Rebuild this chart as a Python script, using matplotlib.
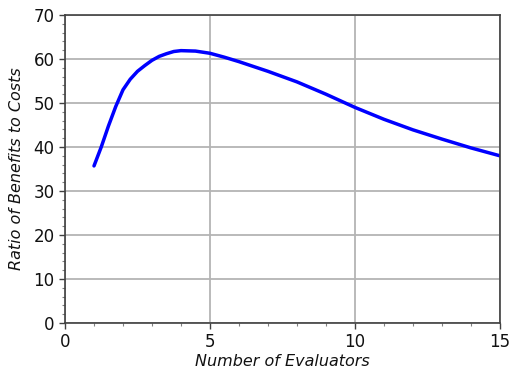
import matplotlib
matplotlib.use('Agg')
import matplotlib.pyplot as plt
from matplotlib.ticker import MultipleLocator

# evaluators vs. benefit/cost ratio
evaluators = [1, 1.25, 1.5, 1.75, 2, 2.25, 2.5, 2.75, 3, 3.25, 3.5, 3.75, 4, 4.5, 5, 5.5, 6,
              7, 8, 9, 10, 11, 12, 13, 14, 15]
ratio = [35.7, 40.0, 44.8, 49.2, 53.0, 55.4, 57.2, 58.5, 59.7, 60.6, 61.2, 61.7, 61.9, 61.8,
         61.3, 60.4, 59.4, 57.2, 54.8, 52.0, 49.0, 46.3, 43.9, 41.8, 39.8, 38.0]

xticks = [0, 5, 10, 15]
yticks = [0, 10, 20, 30, 40, 50, 60, 70]

fig = plt.figure(figsize=(5.18, 3.75), dpi=100)
ax = fig.add_axes([0.1255, 0.1387, 0.8395, 0.8213])

ax.plot(evaluators, ratio, color='#0000ff', lw=2.5, solid_capstyle='round', solid_joinstyle='round')

ax.set_xlim(0, 15)
ax.set_ylim(0, 70)
ax.set_xticks(xticks)
ax.set_yticks(yticks)
ax.xaxis.set_minor_locator(MultipleLocator(1))
ax.yaxis.set_minor_locator(MultipleLocator(2))
ax.tick_params(which='major', length=4, width=1, color='#404040', labelsize=12, labelcolor='#111111')
ax.tick_params(which='minor', length=2.5, width=0.8, color='#808080')

ax.grid(True, which='major', color='#b4b4b4', lw=1.3)
ax.set_axisbelow(True)
for s in ax.spines.values():
    s.set_color('#404040')
    s.set_linewidth(1.2)

ax.set_xlabel('Number of Evaluators', fontsize=11.5, style='italic', color='#111111', labelpad=2)
ax.set_ylabel('Ratio of Benefits to Costs', fontsize=11.5, style='italic', color='#111111', labelpad=7)

plt.savefig('out.png', dpi=100)
plt.close()
